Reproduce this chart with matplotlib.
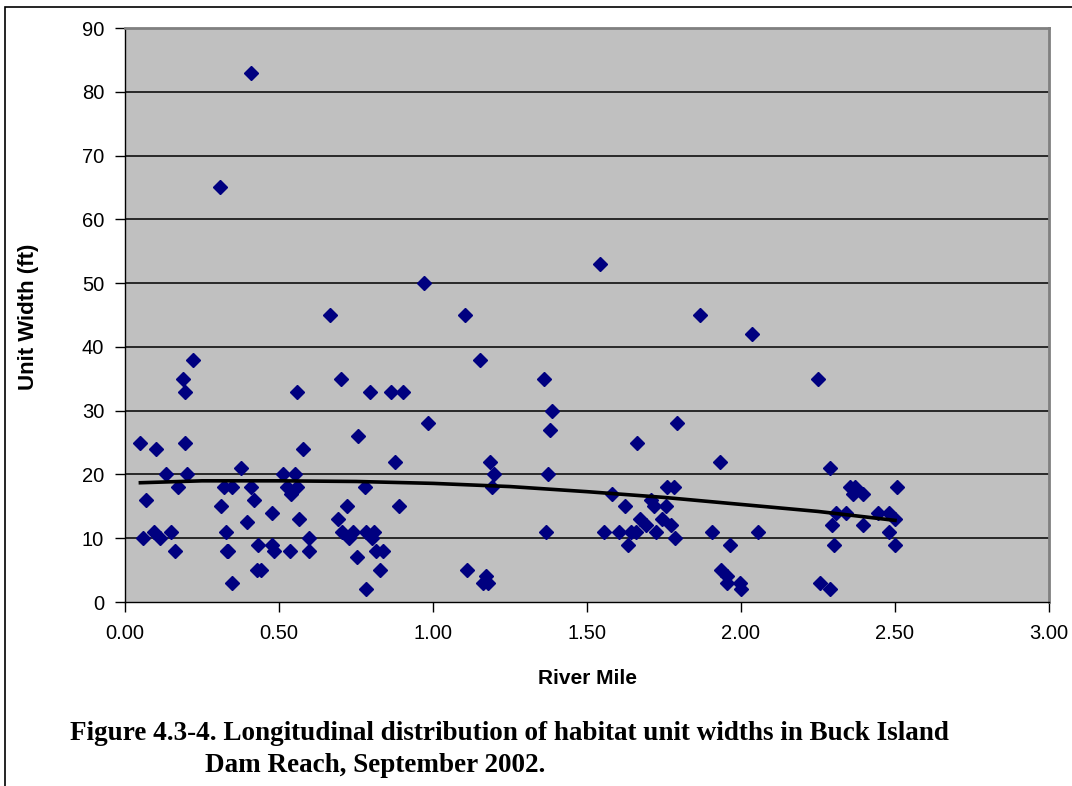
import matplotlib
matplotlib.use("Agg")
from matplotlib import pyplot as plt
from matplotlib.patches import Rectangle

# river mile / unit width (ft)
river_mile = [0.05, 0.057, 0.069, 0.10, 0.094, 0.115, 0.132, 0.15, 0.163, 0.171,
              0.188, 0.194, 0.194, 0.202, 0.22, 0.308, 0.313, 0.32, 0.327, 0.33,
              0.334, 0.346, 0.346, 0.377, 0.395, 0.409, 0.408, 0.42, 0.432, 0.427,
              0.442, 0.477, 0.477, 0.484, 0.514, 0.527, 0.536, 0.54, 0.553, 0.557,
              0.559, 0.564, 0.577, 0.597, 0.598, 0.665, 0.69, 0.70, 0.704, 0.739,
              0.721, 0.728, 0.752, 0.758, 0.779, 0.784, 0.784, 0.81, 0.796, 0.802,
              0.816, 0.838, 0.827, 0.865, 0.878, 0.891, 0.904, 0.971, 0.985,
              1.105, 1.11, 1.154, 1.162, 1.173, 1.18, 1.185, 1.19, 1.198,
              1.362, 1.367, 1.373, 1.38, 1.386, 1.543, 1.554, 1.58, 1.605, 1.624,
              1.632, 1.643, 1.659, 1.661, 1.672, 1.691, 1.708, 1.716, 1.725, 1.743,
              1.756, 1.76, 1.774, 1.781, 1.787, 1.793, 1.867, 1.906, 1.932, 1.936,
              1.956, 1.956, 1.963, 1.997, 1.999, 2.037, 2.056, 2.251, 2.256, 2.288,
              2.288, 2.295, 2.301, 2.309, 2.342, 2.355, 2.363, 2.369, 2.395, 2.395,
              2.444, 2.482, 2.482, 2.501, 2.501, 2.508]
unit_width = [25, 10, 16, 24, 11, 10, 20, 11, 8, 18,
              35, 33, 25, 20, 38, 65, 15, 18, 11, 8,
              8, 18, 3, 21, 12.5, 83, 18, 16, 9, 5,
              5, 14, 9, 8, 20, 18, 8, 17, 20, 18,
              33, 13, 24, 10, 8, 45, 13, 35, 11, 11,
              15, 10, 7, 26, 18, 2, 11, 11, 33, 10,
              8, 8, 5, 33, 22, 15, 33, 50, 28,
              45, 5, 38, 3, 4, 3, 22, 18, 20,
              35, 11, 20, 27, 30, 53, 11, 17, 11, 15,
              9, 11, 11, 25, 13, 12, 16, 15, 11, 13,
              15, 18, 12, 18, 10, 28, 45, 11, 22, 5,
              4, 3, 9, 3, 2, 42, 11, 35, 3, 21,
              2, 12, 9, 14, 14, 18, 17, 18, 17, 12,
              14, 14, 11, 9, 13, 18]

# trend line
trend_mile = [0.05, 0.25, 0.50, 0.75, 1.00, 1.25, 1.50, 1.75, 2.00, 2.25, 2.50]
trend_width = [18.7, 19.0, 19.0, 18.9, 18.6, 18.1, 17.3, 16.4, 15.3, 14.2, 12.8]

x_ticks = [0, 0.5, 1.0, 1.5, 2.0, 2.5, 3.0]
y_ticks = list(range(0, 100, 10))

W, H = 1072, 786
fig = plt.figure(figsize=(W / 100, H / 100), dpi=100)
ax = fig.add_axes([125 / W, 1 - 602 / H, (1049 - 125) / W, (602 - 28) / H])

ax.set_facecolor('#C0C0C0')
for y in y_ticks[1:-1]:
    ax.axhline(y, color='black', linewidth=1.1, zorder=1)

ax.plot(river_mile, unit_width, linestyle='none', marker='D', markersize=7,
        color='#000080', markeredgecolor='#000080', zorder=3)
ax.plot(trend_mile, trend_width, color='black', linewidth=2.6, zorder=4)

ax.set_xlim(0, 3)
ax.set_ylim(0, 90)
ax.set_xticks(x_ticks)
ax.set_xticklabels(['%.2f' % v for v in x_ticks])
ax.set_yticks(y_ticks)
ax.tick_params(direction='out', length=7, width=1, color='black',
               labelsize=14.5, pad=9)
ax.tick_params(axis='y', pad=8)
for lab in ax.get_xticklabels() + ax.get_yticklabels():
    lab.set_family('Liberation Sans')

for s in ax.spines.values():
    s.set_color('#808080')
    s.set_linewidth(2)
ax.spines['left'].set_color('black')
ax.spines['left'].set_linewidth(1)
ax.spines['bottom'].set_color('black')
ax.spines['bottom'].set_linewidth(1)

fig.text(587 / W, 1 - 678 / H, 'River Mile', ha='center', va='center',
         fontsize=15, fontweight='bold', family='Liberation Sans')
fig.text(29 / W, 1 - 317 / H, 'Unit Width (ft)', ha='center', va='center',
         rotation=90, fontsize=16, fontweight='bold', family='Liberation Sans')

fig.text(70 / W, 1 - 733 / H,
         'Figure 4.3-4. Longitudinal distribution of habitat unit widths in Buck Island',
         ha='left', va='center', fontsize=19.5, fontweight='bold', family='Liberation Serif')
fig.text(205 / W, 1 - 765 / H, 'Dam Reach, September 2002.',
         ha='left', va='center', fontsize=19.5, fontweight='bold', family='Liberation Serif')

# outer frame (left and top only visible)
fig.patches.append(Rectangle((5 / W, -0.1), 1.2, 1 - 7 / H + 0.1,
                             transform=fig.transFigure, fill=False,
                             edgecolor='black', linewidth=1.2))

fig.savefig('out.png', dpi=100)
